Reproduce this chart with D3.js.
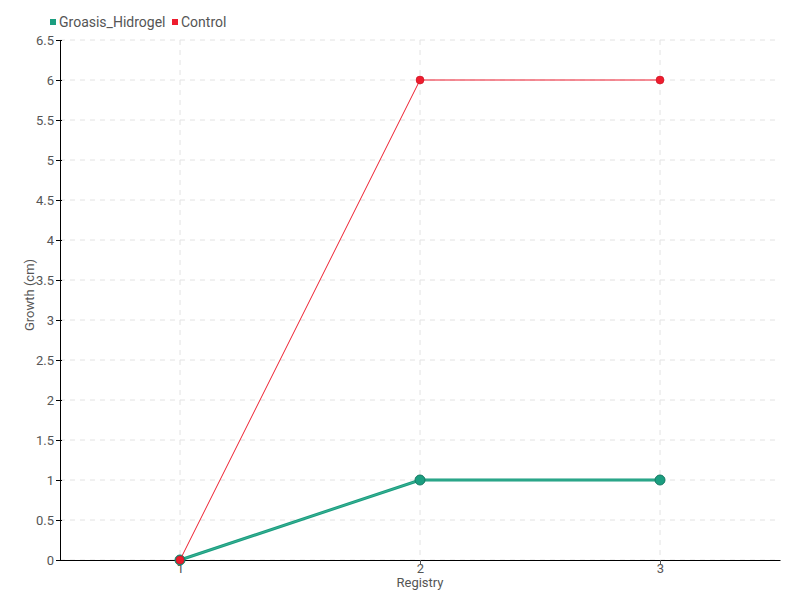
<!DOCTYPE html>
<html>
<head>
    <script src="https://cdnjs.cloudflare.com/ajax/libs/d3/7.8.5/d3.min.js"></script>
    <style>
        body { margin: 0; background: #fff; }
        text { font-family: Roboto, "Liberation Sans", sans-serif; }
    </style>
</head>
<body>
    <div id="chart"></div>
    <script>
        const registry = [1, 2, 3]
        const groasis = [0, 1, 1]
        const control = [0, 6, 6]
        const yTicks = [0, 0.5, 1, 1.5, 2, 2.5, 3, 3.5, 4, 4.5, 5, 5.5, 6, 6.5]
        const seriesNames = ["Groasis_Hidrogel", "Control"]
        const colors = ["#1b9e80", "#ee1c2e"]

        const W = 800, H = 600
        const MARGIN = { top: 40, right: 20, bottom: 40, left: 60 }

        let svg = d3.select("#chart").append("svg").attr("width", W).attr("height", H)

        let x = d3.scaleLinear().domain([0.5, 3.5]).range([MARGIN.left, W - MARGIN.right])
        let y = d3.scaleLinear().domain([0, 6.5]).range([H - MARGIN.bottom, MARGIN.top])

        // grid
        let grid = svg.append("g")
        yTicks.forEach(function (t) {
            grid.append("line").attr("x1", MARGIN.left).attr("x2", W - MARGIN.right)
                .attr("y1", y(t)).attr("y2", y(t))
                .attr("stroke", "#e2e2e2").attr("stroke-dasharray", "5,5")
        })
        registry.forEach(function (t) {
            grid.append("line").attr("x1", x(t)).attr("x2", x(t))
                .attr("y1", MARGIN.top).attr("y2", H - MARGIN.bottom)
                .attr("stroke", "#e2e2e2").attr("stroke-dasharray", "5,5")
        })

        // axes
        let xAxis = svg.append("g").attr("transform", `translate(0,${H - MARGIN.bottom})`)
            .call(d3.axisBottom(x).tickValues(registry).tickFormat(d => String(d)).tickSize(5).tickPadding(-1).tickSizeOuter(0))
        xAxis.select(".domain").attr("stroke", "#000")
        xAxis.selectAll(".tick line").attr("stroke", "#555")
        xAxis.selectAll(".tick text").attr("fill", "#555").style("font-size", "13px")

        let yAxis = svg.append("g").attr("transform", `translate(${MARGIN.left},0)`)
            .call(d3.axisLeft(y).tickValues(yTicks).tickFormat(d => String(d)).tickSize(4).tickPadding(2).tickSizeOuter(0))
        yAxis.select(".domain").attr("stroke", "#000")
        yAxis.selectAll(".tick line").attr("stroke", "#000").attr("x2", 2).attr("x1", -4)
        yAxis.selectAll(".tick text").attr("fill", "#555").style("font-size", "13px")

        svg.append("text").attr("x", x(2)).attr("y", H - 13).attr("text-anchor", "middle")
            .attr("fill", "#555").style("font-size", "13px").text("Registry")
        svg.append("text").attr("transform", `translate(34,${(MARGIN.top + H - MARGIN.bottom) / 2 - 5}) rotate(-90)`)
            .attr("text-anchor", "middle").attr("fill", "#555").style("font-size", "13px").text("Growth (cm)")

        // lines
        let line = d3.line().x((d, i) => x(registry[i])).y(d => y(d))

        svg.append("path").datum(groasis).attr("d", line).attr("fill", "none")
            .attr("stroke", colors[0]).attr("stroke-width", 3)
        svg.append("path").datum(groasis).attr("d", line).attr("fill", "none")
            .attr("stroke", "#5cc3a6").attr("stroke-width", 0.8).attr("opacity", 0.6)
        svg.selectAll(".g-pt").data(groasis).enter().append("circle")
            .attr("cx", (d, i) => x(registry[i])).attr("cy", d => y(d)).attr("r", 5)
            .attr("fill", colors[0]).attr("stroke", "#157a63").attr("stroke-width", 1)

        svg.append("path").datum(control).attr("d", line).attr("fill", "none")
            .attr("stroke", colors[1]).attr("stroke-width", 1)
        svg.selectAll(".c-pt").data(control).enter().append("circle")
            .attr("cx", (d, i) => x(registry[i])).attr("cy", d => y(d)).attr("r", 4)
            .attr("fill", colors[1]).attr("stroke", "#c0101f").attr("stroke-width", 0.5)

        // legend
        let legX = [50, 172]
        seriesNames.forEach(function (name, i) {
            svg.append("rect").attr("x", legX[i]).attr("y", 19).attr("width", 6).attr("height", 6)
                .attr("fill", colors[i])
            svg.append("text").attr("x", legX[i] + 9).attr("y", 27).attr("fill", "#555")
                .style("font-size", "14px").text(name)
        })
    </script>
</body>
</html>
